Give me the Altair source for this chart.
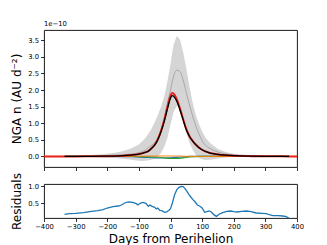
import altair as alt
import pandas as pd

# ---------------- data (NGA in units of 1e-10 AU d^-2) ----------------
days = [-335, -300, -250, -200, -175, -150, -125, -100, -90, -80, -70, -60, -50, -40,
        -30, -20, -10, 0, 5, 10, 20, 30, 40, 50, 60, 70, 80, 90, 100, 110, 125, 150,
        175, 200, 250, 300, 350, 375]
black = [0.0, 0.0, 0.002, 0.005, 0.01, 0.02, 0.04, 0.07, 0.09, 0.12, 0.16, 0.24, 0.34,
         0.50, 0.74, 1.05, 1.42, 1.75, 1.83, 1.81, 1.66, 1.40, 1.10, 0.80, 0.60, 0.46,
         0.35, 0.26, 0.20, 0.15, 0.10, 0.06, 0.035, 0.02, 0.008, 0.003, 0.001, 0.0]
red_days = [-400, -335, -300, -250, -200, -175, -150, -125, -100, -90, -80, -70, -60,
            -50, -40, -30, -20, -10, 0, 5, 10, 20, 30, 40, 50, 60, 70, 80, 90, 100, 110,
            125, 150, 175, 200, 250, 300, 350, 375, 400]
red = [0.0, 0.0, 0.0, 0.002, 0.005, 0.01, 0.02, 0.04, 0.07, 0.09, 0.12, 0.16, 0.25,
       0.35, 0.52, 0.77, 1.09, 1.48, 1.83, 1.91, 1.89, 1.72, 1.44, 1.12, 0.82, 0.61,
       0.47, 0.36, 0.27, 0.20, 0.15, 0.10, 0.06, 0.035, 0.02, 0.008, 0.003, 0.001, 0.0, 0.0]
gray_mean = [0.0, 0.005, 0.015, 0.03, 0.04, 0.05, 0.07, 0.11, 0.14, 0.19, 0.26, 0.33,
             0.41, 0.56, 0.80, 1.15, 1.60, 2.00, 2.22, 2.42, 2.60, 2.56, 2.30, 1.92,
             1.55, 1.22, 0.92, 0.68, 0.47, 0.34, 0.24, 0.13, 0.07, 0.04, 0.015, 0.005,
             0.002, 0.0]
band_hi = [0.01, 0.02, 0.04, 0.08, 0.11, 0.16, 0.24, 0.36, 0.45, 0.55, 0.68, 0.83, 1.02,
           1.25, 1.50, 1.80, 2.25, 2.78, 3.10, 3.38, 3.63, 3.52, 3.15, 2.65, 2.10, 1.62,
           1.25, 0.98, 0.75, 0.58, 0.40, 0.22, 0.13, 0.08, 0.04, 0.02, 0.01, 0.0]
band_lo = [-0.01, -0.01, -0.02, -0.04, -0.05, -0.07, -0.10, -0.13, -0.14, -0.13, -0.12,
           -0.10, -0.06, 0.0, 0.10, 0.28, 0.55, 0.95, 1.15, 1.35, 1.52, 1.45, 1.12, 0.72,
           0.40, 0.20, 0.05, -0.05, -0.09, -0.11, -0.10, -0.06, -0.03, -0.02, -0.01,
           -0.01, 0.0, 0.0]
near_days = [-335, -200, -120, -80, -50, -20, 0, 20, 40, 60, 100, 200, 375]
blue = [0.0, 0.0, -0.01, -0.03, -0.045, -0.05, -0.04, -0.03, -0.015, 0.0, 0.0, 0.0, 0.0]
green = [0.0, 0.0, 0.0, -0.01, -0.02, -0.045, -0.065, -0.065, -0.045, -0.02, 0.0, 0.0, 0.0]
orange_days = [-400, -335, -200, -120, -80, -50, -20, 0, 20, 40, 60, 100, 200, 375, 400]
orange = [0.0, 0.0, 0.0, 0.005, 0.01, 0.012, 0.012, 0.012, 0.01, 0.005, 0.0, 0.0, 0.0, 0.0, 0.0]

res_days = [-335, -320, -300, -275, -250, -230, -213, -200, -182, -165, -155, -145, -134,
            -120, -108, -103, -95, -87, -78, -70, -65, -58, -50, -45, -40, -34, -27, -19,
            -12, -5, 0, 6, 13, 20, 27, 34, 40, 46, 52, 58, 64, 71, 78, 85, 92, 100, 108,
            115, 122, 129, 137, 145, 155, 165, 178, 190, 200, 210, 225, 240, 255, 271,
            290, 303, 315, 324, 340, 355, 366, 374]
residuals = [0.16, 0.18, 0.19, 0.21, 0.25, 0.27, 0.30, 0.35, 0.39, 0.41, 0.44, 0.50, 0.53,
             0.52, 0.48, 0.44, 0.50, 0.52, 0.49, 0.40, 0.44, 0.40, 0.37, 0.32, 0.35, 0.28,
             0.27, 0.22, 0.23, 0.28, 0.33, 0.50, 0.75, 0.90, 0.97, 1.00, 0.99, 0.93, 0.85,
             0.76, 0.68, 0.60, 0.53, 0.44, 0.41, 0.35, 0.22, 0.24, 0.26, 0.23, 0.15, 0.10,
             0.17, 0.21, 0.25, 0.26, 0.24, 0.23, 0.25, 0.26, 0.24, 0.20, 0.19, 0.18, 0.14,
             0.12, 0.12, 0.11, 0.09, 0.05]

x_ticks = [-400, -300, -200, -100, 0, 100, 200, 300, 400]
y_ticks_top = [0.0, 0.5, 1.0, 1.5, 2.0, 2.5, 3.0, 3.5]
y_ticks_res = [0.5, 1.0]

FONT = "DejaVu Sans"

# ---------------- tables ----------------
main_df = pd.DataFrame({"day": days, "black": black, "gray": gray_mean,
                        "hi": band_hi, "lo": band_lo})
red_df = pd.DataFrame({"day": red_days, "v": red})
near_df = pd.DataFrame({"day": near_days, "blue": blue, "green": green})
orange_df = pd.DataFrame({"day": orange_days, "v": orange})
res_df = pd.DataFrame({"day": res_days, "v": residuals})

xscale = alt.Scale(domain=[-400, 400], nice=False, zero=False)
yscale_top = alt.Scale(domain=[-0.32, 3.81], nice=False, zero=False)
yscale_res = alt.Scale(domain=[0.05, 1.07], nice=False, zero=False)

x_top = alt.X("day:Q", scale=xscale,
              axis=alt.Axis(values=x_ticks, labels=False, title=None))
y_axis_top = alt.Axis(values=y_ticks_top, format=".1f", title="NGA n (AU d⁻²)",
                      titlePadding=4, labelOverlap=False, labelBound=False,
                      labelFlush=False)

band = alt.Chart(main_df).mark_area(color="#d3d3d3", opacity=0.95).encode(
    x=x_top, y=alt.Y("hi:Q", scale=yscale_top, axis=y_axis_top), y2="lo:Q")
gray = alt.Chart(main_df).mark_line(color="#a8a8a8", strokeWidth=1,
                                    interpolate="monotone").encode(
    x=x_top, y=alt.Y("gray:Q", scale=yscale_top, axis=y_axis_top))
blue_l = alt.Chart(near_df).mark_line(color="#1f77b4", strokeWidth=1.1,
                                      interpolate="monotone").encode(
    x=x_top, y=alt.Y("blue:Q", scale=yscale_top, axis=y_axis_top))
green_l = alt.Chart(near_df).mark_line(color="#2ca02c", strokeWidth=1.1,
                                       interpolate="monotone").encode(
    x=x_top, y=alt.Y("green:Q", scale=yscale_top, axis=y_axis_top))
orange_l = alt.Chart(orange_df).mark_line(color="#ff7f0e", strokeWidth=1.0,
                                          interpolate="monotone").encode(
    x=x_top, y=alt.Y("v:Q", scale=yscale_top, axis=y_axis_top))
red_l = alt.Chart(red_df).mark_line(color="#e8231a", strokeWidth=2.0,
                                    interpolate="monotone").encode(
    x=x_top, y=alt.Y("v:Q", scale=yscale_top, axis=y_axis_top))
black_l = alt.Chart(main_df).mark_line(color="black", strokeWidth=1.3,
                                       interpolate="monotone").encode(
    x=x_top, y=alt.Y("black:Q", scale=yscale_top, axis=y_axis_top))

top = alt.layer(band, gray, blue_l, green_l, orange_l, red_l, black_l).properties(
    width=253, height=137,
    title=alt.TitleParams("1e−10", anchor="start", frame="group", fontSize=6.8,
                          fontWeight="normal", font=FONT, color="black", offset=2))

bottom = alt.Chart(res_df).mark_line(color="#1f77b4", strokeWidth=1.3).encode(
    x=alt.X("day:Q", scale=xscale,
            axis=alt.Axis(values=x_ticks, title="Days from Perihelion",
                          titlePadding=3, labelOverlap=False, labelBound=False,
                          labelFlush=False)),
    y=alt.Y("v:Q", scale=yscale_res,
            axis=alt.Axis(values=y_ticks_res, format=".1f", title="Residuals",
                          titlePadding=4, labelOverlap=False, labelBound=False,
                          labelFlush=False)),
).properties(width=253, height=34)

chart = alt.vconcat(top, bottom, spacing=17, bounds="flush").properties(
    padding={"left": 2, "top": 12, "right": 5, "bottom": 0}
).configure_view(stroke="black", strokeWidth=0.9).configure_axis(
    grid=False, domain=False, labelFont=FONT, titleFont=FONT, labelFontSize=6.8,
    titleFontSize=12, titleFontWeight="normal", labelColor="black", titleColor="black",
    tickColor="black", tickWidth=0.8, tickSize=3.5, labelPadding=2
)

chart.save("out.html", embed_options={"renderer": "svg", "actions": False})
